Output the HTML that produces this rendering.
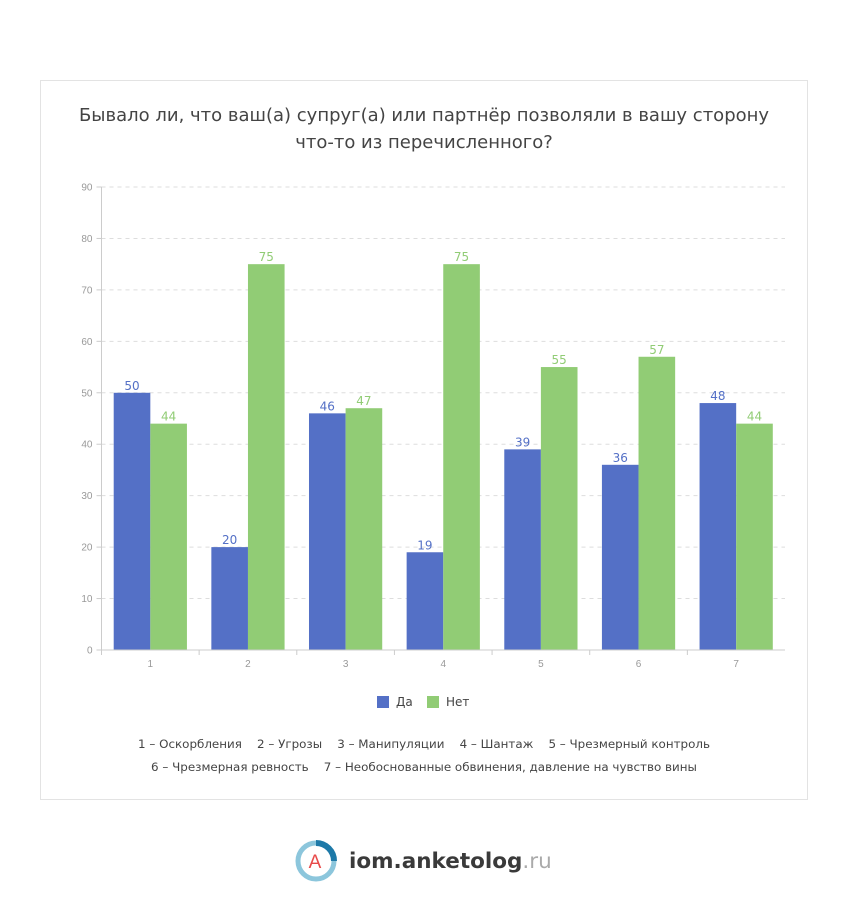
<!DOCTYPE html>
<html><head><meta charset="utf-8"><style>
body{margin:0;background:#fff;font-family:"Liberation Sans","DejaVu Sans",sans-serif;}
#card{position:absolute;left:40px;top:80px;width:766px;height:718px;border:1px solid #e3e3e3;background:#fff;}
</style></head><body>
<div id="card"></div>
<svg id="chart" width="848" height="922" style="position:absolute;left:0;top:0">
<text x="424" y="121" text-anchor="middle" font-size="18" fill="#444" font-family="DejaVu Sans, sans-serif">Бывало ли, что ваш(а) супруг(а) или партнёр позволяли в вашу сторону</text>
<text x="424" y="148" text-anchor="middle" font-size="18" fill="#444" font-family="DejaVu Sans, sans-serif">что-то из перечисленного?</text>
<g id="grid"></g><g id="bars"></g><g id="axes"></g>
<g font-family="DejaVu Sans, sans-serif" font-size="12" fill="#444">
<rect x="377" y="696" width="12" height="12" fill="#5470c6"/>
<text x="396" y="706">Да</text>
<rect x="427" y="696" width="12" height="12" fill="#91cc75"/>
<text x="446" y="706">Нет</text>
</g>
<text x="424" y="748" text-anchor="middle" font-size="11.9" fill="#444" font-family="DejaVu Sans, sans-serif" xml:space="preserve">1 – Оскорбления    2 – Угрозы    3 – Манипуляции    4 – Шантаж    5 – Чрезмерный контроль</text>
<text x="424" y="771" text-anchor="middle" font-size="11.9" fill="#444" font-family="DejaVu Sans, sans-serif" xml:space="preserve">6 – Чрезмерная ревность    7 – Необоснованные обвинения, давление на чувство вины</text>
<g>
<circle cx="316" cy="861" r="18" fill="none" stroke="#8cc6dc" stroke-width="5"/>
<path d="M316 843 A18 18 0 0 1 334 861" fill="none" stroke="#1d79a8" stroke-width="6"/>
<circle cx="316" cy="861" r="13" fill="#fff"/>
<text x="315" y="868" text-anchor="middle" font-size="19" fill="#e84a4a">A</text>
<text x="349" y="868" font-size="21.5" font-weight="bold" fill="#3a3a3a" font-family="DejaVu Sans, sans-serif">iom.anketolog<tspan fill="#aaa" font-weight="normal">.ru</tspan></text>
</g>
</svg>
<script>
const categories=["1","2","3","4","5","6","7"];
const yesValues=[50,20,46,19,39,36,48];
const noValues=[44,75,47,75,55,57,44];
const yTicks=[0,10,20,30,40,50,60,70,80,90];
const NS="http://www.w3.org/2000/svg";
const x0=101.5,x1=785,y0=650,yTop=187,yMax=90;
const bw=(x1-x0)/categories.length;
const Y=v=>y0-(v/yMax)*(y0-yTop);
const X=i=>x0+bw*i;
function mk(t,a,p){const e=document.createElementNS(NS,t);for(const k in a)e.setAttribute(k,a[k]);p.appendChild(e);return e;}
const grid=document.getElementById('grid'),bars=document.getElementById('bars'),axes=document.getElementById('axes');
yTicks.forEach(t=>{
 if(t>0){const l=mk('line',{x1:x0,x2:x1,y1:Y(t),y2:Y(t),stroke:'#ddd','stroke-dasharray':'4,4'},grid);
 
 }
 const tk=mk('line',{x1:x0-5,x2:x0,y1:Y(t),y2:Y(t),stroke:'#ccc'},axes);
 
 
 const tx=mk('text',{x:x0-9,y:Y(t)+3.5,'text-anchor':'end','font-size':10,fill:'#999'},axes);tx.textContent=t;
 
 
});
const ya=mk('line',{x1:x0,x2:x0,y1:yTop,y2:y0,stroke:'#ccc'},axes);


const xa=mk('line',{x1:x0,x2:x1,y1:y0,y2:y0,stroke:'#ccc'},axes);


categories.forEach((c,i)=>{
 const tk=mk('line',{x1:X(i),x2:X(i),y1:y0,y2:y0+5,stroke:'#ccc'},axes);
 
 
 const tx=mk('text',{x:X(i)+bw/2,y:y0+17,'text-anchor':'middle','font-size':10,fill:'#999'},axes);tx.textContent=c;
 
 
 const w=bw*0.375,cx=X(i)+bw/2;
 [[yesValues[i],cx-w,'#5470c6','bar-yes'],[noValues[i],cx,'#91cc75','bar-no']].forEach(([v,bx,col,nm])=>{
  const r=mk('rect',{x:bx,y:Y(v),width:w,height:y0-Y(v),fill:col},bars);
  
  
  const lb=mk('text',{x:bx+w/2,y:Y(v)-3,'text-anchor':'middle','font-size':12,fill:col,'font-family':'DejaVu Sans, sans-serif'},bars);lb.textContent=v;
  
  
 });
});
const ytop=mk('line',{x1:x0-5,x2:x0,y1:yTop,y2:yTop,stroke:'#ccc'},axes);


</script>
</body></html>
